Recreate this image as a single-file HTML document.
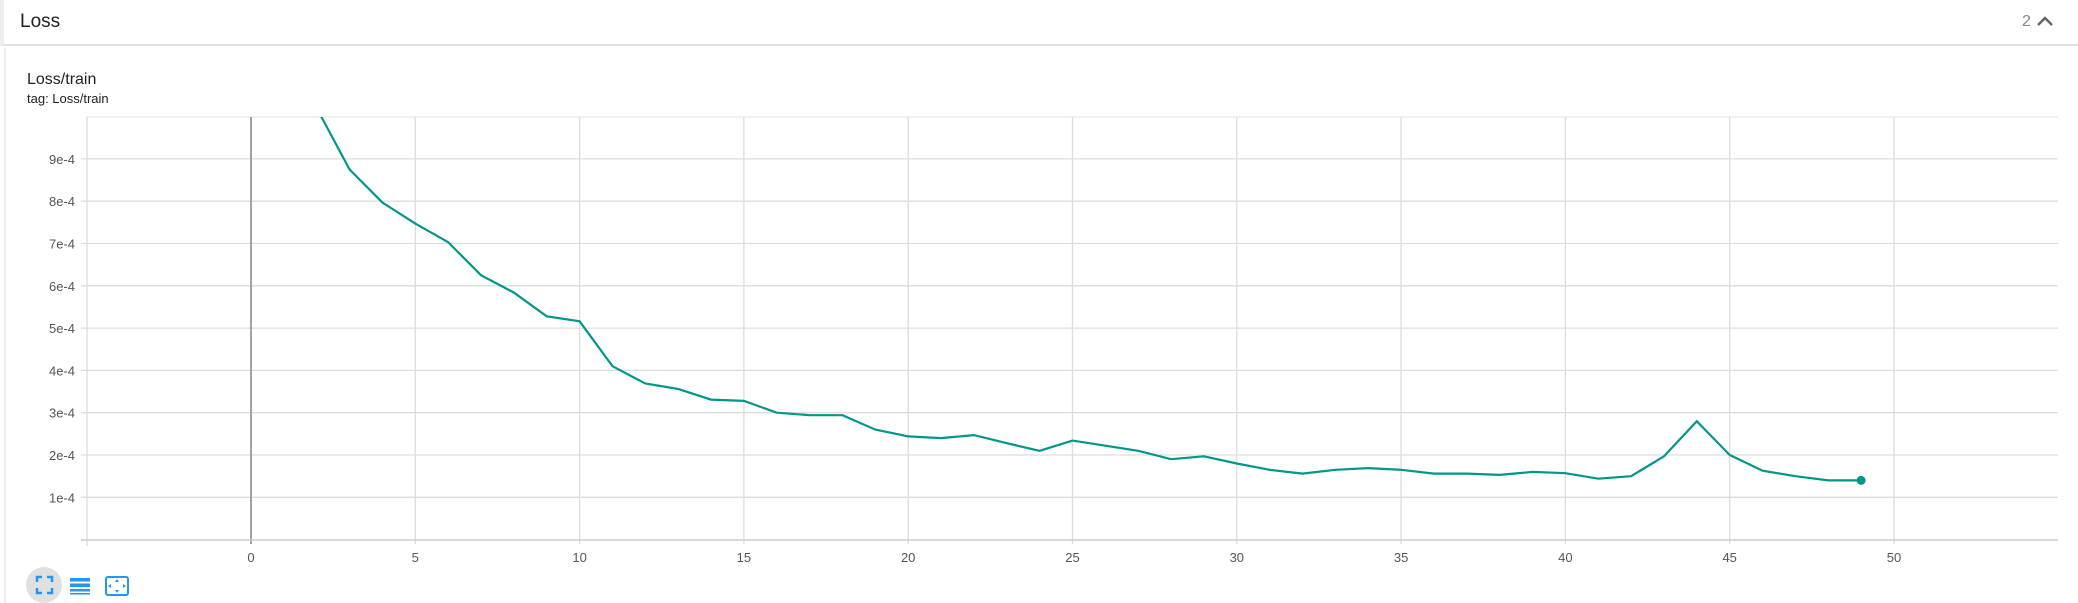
<!DOCTYPE html>
<html><head><meta charset="utf-8"><style>
body{margin:0;width:2078px;height:603px;background:#fff;font-family:"Liberation Sans",sans-serif;overflow:hidden;position:relative}
.t{position:absolute;color:#212121}
</style></head><body>
<div style="position:absolute;left:0;top:0;width:2078px;height:46px;border-bottom:2px solid #e0e0e0;border-left:4px solid #eee;box-sizing:border-box"></div>
<div class="t" style="left:20px;top:11px;font-size:19px">Loss</div>
<div class="t" style="left:2022px;top:13px;font-size:16px;color:#888">2</div>
<svg style="position:absolute;left:2036px;top:14px" width="18" height="14"><path d="M2 11 L9 4 L16 11" stroke="#666" stroke-width="2.5" fill="none"/></svg>
<div style="position:absolute;left:4px;top:48px;width:2px;height:555px;background:#eee"></div>
<div class="t" style="left:27px;top:71px;font-size:16px">Loss/train</div>
<div class="t" style="left:27px;top:91px;font-size:13px">tag: Loss/train</div>
<svg id="chart" style="position:absolute;left:0;top:0" width="2078" height="603"></svg>
<div style="position:absolute;left:26px;top:567px;width:36px;height:36px;border-radius:50%;background:#e0e0e0"></div>
<svg style="position:absolute;left:26px;top:567px" width="120" height="36">
<g stroke="#2196f3" stroke-width="2.5" fill="none"><path d="M11 15V10H16M21 10H26V15M26 21V26H21M16 26H11V21"/></g>
<g fill="#2196f3"><rect x="44" y="11" width="20" height="3.5"/><rect x="44" y="16.5" width="20" height="3.5"/><rect x="44" y="22" width="20" height="2.5"/><rect x="44" y="26" width="20" height="1.5"/></g>
<g><rect x="80" y="10" width="22" height="18" rx="2" fill="none" stroke="#2196f3" stroke-width="2"/><path d="M91 12l-2 3h4zM91 26l-2-3h4zM82 19l3-2v4zM100 19l-3-2v4z" fill="#2196f3"/></g>
</svg>
<script>
const steps=[0,1,2,3,4,5,6,7,8,9,10,11,12,13,14,15,16,17,18,19,20,21,22,23,24,25,26,27,28,29,30,31,32,33,34,35,36,37,38,39,40,41,42,43,44,45,46,47,48,49];
const loss=[20,14,10.2,8.75,7.97,7.47,7.03,6.25,5.84,5.28,5.16,4.1,3.69,3.56,3.31,3.28,3.0,2.94,2.94,2.6,2.44,2.4,2.47,2.28,2.1,2.34,2.22,2.1,1.9,1.97,1.8,1.65,1.56,1.65,1.69,1.65,1.56,1.56,1.53,1.6,1.57,1.44,1.5,1.97,2.8,2.0,1.63,1.5,1.4,1.4];
const xTicks=[0,5,10,15,20,25,30,35,40,45,50];
const yTicks=[1,2,3,4,5,6,7,8,9];
const yLabels=["1e-4","2e-4","3e-4","4e-4","5e-4","6e-4","7e-4","8e-4","9e-4"];
const L=87,R=2058,T=117,B=540;
const X=v=>251+v*32.86, Y=v=>539.6-v*42.3;
const svg=document.getElementById('chart'),NS='http://www.w3.org/2000/svg';
function mk(t,a,p){const e=document.createElementNS(NS,t);for(const k in a)e.setAttribute(k,a[k]);(p||svg).appendChild(e);return e;}
mk('line',{x1:L,x2:R,y1:T,y2:T,stroke:'#e0e0e0'});
yTicks.forEach((v,i)=>{const y=Y(v);
const g=mk('line',{x1:L-6,x2:R,y1:y,y2:y,stroke:'#ddd','stroke-width':1.3});


const t=mk('text',{x:75,y:y+5,'text-anchor':'end','font-size':13,fill:'#555','font-family':'Liberation Sans'});
t.textContent=yLabels[i];

});
mk('line',{x1:L,x2:L,y1:T,y2:B+6,stroke:'#ddd','stroke-width':1.3});
xTicks.forEach(v=>{const x=X(v);
const g=mk('line',{x1:x,x2:x,y1:T,y2:B+4,stroke:v===0?'#999':'#ddd','stroke-width':v===0?1.8:1.3});


const t=mk('text',{x:x,y:562,'text-anchor':'middle','font-size':13,fill:'#555','font-family':'Liberation Sans'});
t.textContent=v;

});
const ax=mk('line',{x1:L-6,x2:R,y1:B,y2:B,stroke:'#ccc','stroke-width':1.5});


mk('clipPath',{id:'c'}).appendChild(Object.assign(document.createElementNS(NS,'rect'),{}));
const cr=document.querySelector('#c rect');cr.setAttribute('x',L);cr.setAttribute('y',T);cr.setAttribute('width',R-L);cr.setAttribute('height',B-T);
const d=steps.map((s,i)=>(i?'L':'M')+X(s).toFixed(1)+' '+Y(loss[i]).toFixed(1)).join(' ');
const p=mk('path',{d:d,fill:'none',stroke:'#009688','stroke-width':2.2,'clip-path':'url(#c)'});


const n=steps.length-1;
const dot=mk('circle',{cx:X(steps[n]),cy:Y(loss[n]),r:4.5,fill:'#009688'});


</script>
</body></html>
